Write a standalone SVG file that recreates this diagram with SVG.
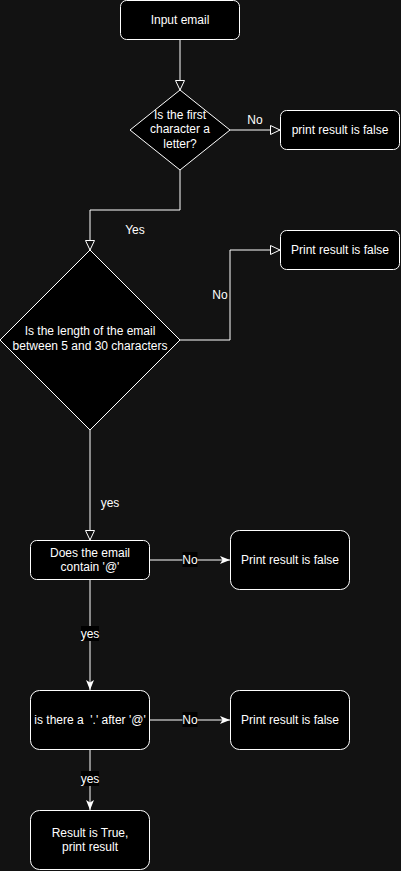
<svg xmlns="http://www.w3.org/2000/svg" width="401" height="871" viewBox="0 0 401 871">
<defs>
<style>
.node{fill:#000;stroke:#fff;stroke-width:1}
.t{font-family:"Liberation Sans",Arial,sans-serif;font-size:12px;fill:#fff;text-anchor:middle;dominant-baseline:central}
.edge{fill:none;stroke:#fff;stroke-width:1}
.lblbg{fill:#000}
</style>
<marker id="open" markerWidth="12" markerHeight="12" refX="10" refY="5" orient="auto" markerUnits="userSpaceOnUse" viewBox="0 0 12 10">
<path d="M0.5,0.5 L10,5 L0.5,9.5 Z" fill="#121212" stroke="#fff" stroke-width="1"/>
</marker>
<marker id="classic" markerWidth="12" markerHeight="10" refX="10" refY="4" orient="auto" markerUnits="userSpaceOnUse" viewBox="0 0 12 8">
<path d="M0,0 L10,4 L0,8 L2.5,4 Z" fill="#fff"/>
</marker>
</defs>
<rect width="401" height="871" fill="#121212"/>
<g id="connectors">
<path class="edge" d="M180,40 V90" marker-end="url(#open)"/>
<path class="edge" d="M230,130 H280" marker-end="url(#open)"/>
<path class="edge" d="M180,170 V210 H90 V250" marker-end="url(#open)"/>
<path class="edge" d="M180,340 H230 V250 H280" marker-end="url(#open)"/>
<path class="edge" d="M90,430 V540" marker-end="url(#open)"/>
<path class="edge" d="M150,560 H230" marker-end="url(#classic)"/>
<path class="edge" d="M90,580 V690" marker-end="url(#classic)"/>
<path class="edge" d="M150,720 H230" marker-end="url(#classic)"/>
<path class="edge" d="M90,750 V810" marker-end="url(#classic)"/>
<text class="t" x="255" y="120">No</text>
<text class="t" x="135" y="230">Yes</text>
<text class="t" x="220" y="295">No</text>
<text class="t" x="110" y="503">yes</text>
<rect class="lblbg" x="182.5" y="552" width="15" height="15"/>
<text class="t" x="190" y="560">No</text>
<rect class="lblbg" x="81" y="626" width="18" height="15"/>
<text class="t" x="90" y="634">yes</text>
<rect class="lblbg" x="182.5" y="712" width="15" height="15"/>
<text class="t" x="190" y="720">No</text>
<rect class="lblbg" x="81" y="771" width="18" height="15"/>
<text class="t" x="90" y="779">yes</text>
</g>
<g id="input-email">
<rect class="node" x="120.5" y="0.5" width="119" height="39" rx="6"/>
<text class="t" x="180" y="20">Input email</text>
</g>
<g id="first-letter">
<path class="node" d="M180,90 L230,130 L180,170 L130,130 Z"/>
<text class="t" x="180" y="115">Is the first</text>
<text class="t" x="180" y="129">character a</text>
<text class="t" x="180" y="144">letter?</text>
</g>
<g id="false-1">
<rect class="node" x="280.5" y="110.5" width="119" height="39" rx="6"/>
<text class="t" x="340" y="130">print result is false</text>
</g>
<g id="length-check">
<path class="node" d="M90,250 L180,340 L90,430 L0,340 Z"/>
<text class="t" x="90" y="331">Is the length of the email</text>
<text class="t" x="90" y="346">between 5 and 30 characters</text>
</g>
<g id="false-2">
<rect class="node" x="280.5" y="230.5" width="119" height="39" rx="6"/>
<text class="t" x="340" y="250">Print result is false</text>
</g>
<g id="contains-at">
<rect class="node" x="30.5" y="540.5" width="119" height="39" rx="6"/>
<text class="t" x="90" y="553">Does the email</text>
<text class="t" x="90" y="567">contain '@'</text>
</g>
<g id="false-3">
<rect class="node" x="230.5" y="530.5" width="119" height="59" rx="9"/>
<text class="t" x="290" y="560">Print result is false</text>
</g>
<g id="dot-after-at">
<rect class="node" x="30.5" y="690.5" width="119" height="59" rx="9"/>
<text class="t" x="90" y="720" xml:space="preserve">is there a  '.' after '@'</text>
</g>
<g id="false-4">
<rect class="node" x="230.5" y="690.5" width="119" height="59" rx="9"/>
<text class="t" x="290" y="720">Print result is false</text>
</g>
<g id="result-true">
<rect class="node" x="30.5" y="810.5" width="119" height="59" rx="9"/>
<text class="t" x="90" y="833">Result is True,</text>
<text class="t" x="90" y="847">print result</text>
</g>
</svg>
